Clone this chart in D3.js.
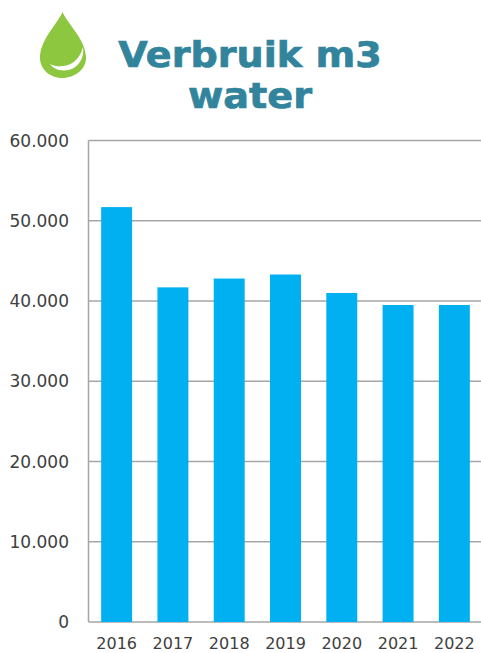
<!DOCTYPE html>
<html>
<head>
<meta charset="utf-8">
<title>Verbruik m3 water</title>
<script src="https://cdn.jsdelivr.net/npm/d3@7"></script>
<style>
    html, body { margin: 0; padding: 0; background: #fff; }
    svg { display: block; }
    text { font-family: "DejaVu Sans", sans-serif; }
</style>
</head>
<body>
<div id="chart"></div>
<script>
// jaren en verbruik (m3)
const years = ['2016', '2017', '2018', '2019', '2020', '2021', '2022'];
const usage = [51700, 41700, 42800, 43300, 41000, 39500, 39500];
const yTicks = [0, 10000, 20000, 30000, 40000, 50000, 60000];
const titleLines = ['Verbruik m3', 'water'];

const width = 481;
const height = 653;
const plot = { left: 88.5, right: 482.5, top: 140.5, bottom: 622 };

const svg = d3.select('#chart')
    .append('svg')
    .attr('width', width)
    .attr('height', height);

const x = d3.scaleBand()
    .domain(years)
    .range([plot.left, plot.right])
    .paddingInner(0.45)
    .paddingOuter(0.225);

const y = d3.scaleLinear()
    .domain([0, 60000])
    .range([plot.bottom, plot.top]);

// punt als duizendtalscheiding
const fmt = d => d === 0 ? '0' : d3.format(',')(d).replace(',', '.');

// rasterlijnen
svg.append('g')
    .selectAll('line')
    .data(yTicks)
    .enter().append('line')
    .attr('x1', plot.left)
    .attr('x2', plot.right)
    .attr('y1', d => y(d))
    .attr('y2', d => y(d))
    .attr('stroke', '#a6a6a6')
    .attr('stroke-width', 1.5);

svg.append('line')
    .attr('x1', plot.left)
    .attr('x2', plot.left)
    .attr('y1', plot.top)
    .attr('y2', plot.bottom)
    .attr('stroke', '#a6a6a6')
    .attr('stroke-width', 1.5);

// balken
svg.append('g')
    .selectAll('rect')
    .data(usage)
    .enter().append('rect')
    .attr('x', (d, i) => x(years[i]))
    .attr('y', d => y(d))
    .attr('width', x.bandwidth())
    .attr('height', d => y(0) - y(d))
    .attr('fill', '#00b0f0');

// y-as labels
svg.append('g')
    .selectAll('text')
    .data(yTicks)
    .enter().append('text')
    .attr('x', 69)
    .attr('y', d => y(d))
    .attr('dy', '0.36em')
    .attr('text-anchor', 'end')
    .attr('fill', '#404040')
    .style('font-size', '17px')
    .text(fmt);

// x-as labels
svg.append('g')
    .selectAll('text')
    .data(years)
    .enter().append('text')
    .attr('x', d => x(d) + x.bandwidth() / 2)
    .attr('y', 649)
    .attr('text-anchor', 'middle')
    .attr('fill', '#404040')
    .style('font-size', '16px')
    .text(d => d);

// titel, iets breder en zwaarder dan de gewone bold
svg.append('g')
    .attr('transform', 'translate(250,0) scale(1.09,1)')
    .selectAll('text')
    .data(titleLines)
    .enter().append('text')
    .attr('x', 0)
    .attr('y', (d, i) => 67 + i * 41)
    .attr('text-anchor', 'middle')
    .attr('fill', '#31849b')
    .attr('stroke', '#31849b')
    .attr('stroke-width', 0.7)
    .style('font-size', '35px')
    .style('font-weight', 'bold')
    .text(d => d);

// druppel icoon
const drop = svg.append('g');
drop.append('path')
    .attr('d', 'M62.5 12 C56 26 40 40 40 58 C40 69 50 78 62 78 C75 78 86 69 86 58 C86 40 69 26 62.5 12 Z')
    .attr('fill', '#8dc63f');
drop.append('path')
    .attr('d', 'M50 64 C60 69 78 67 83 47 C85 62 74 73 59 70 C55 69 52 67 50 64 Z')
    .attr('fill', '#fff');
</script>
</body>
</html>
